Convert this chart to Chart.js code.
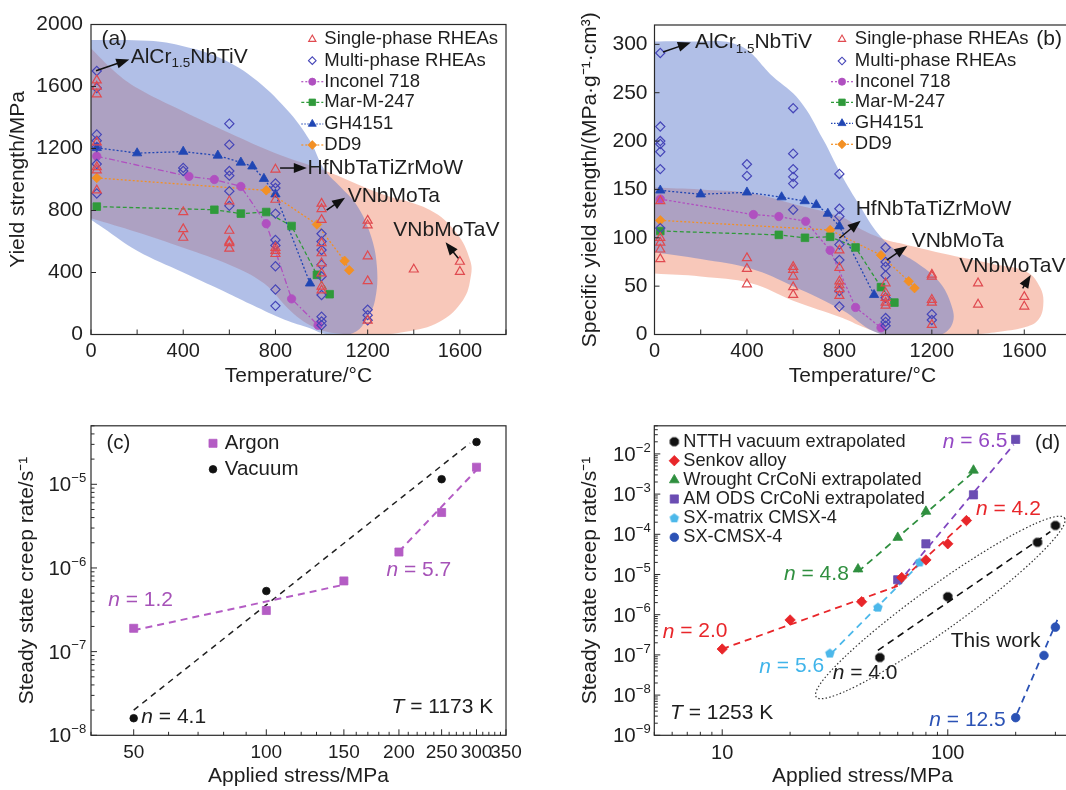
<!DOCTYPE html>
<html><head><meta charset="utf-8">
<script src="https://cdn.jsdelivr.net/npm/chart.js@4.4.1/dist/chart.umd.min.js"></script>
<style>
html,body{margin:0;padding:0;background:#fff;overflow:hidden;width:1066px;height:790px;position:relative;}
canvas{position:absolute;display:block;}
</style></head><body>
<canvas id="ca" width="533" height="395" style="left:0;top:0"></canvas>
<canvas id="cb" width="560" height="395" style="left:533px;top:0"></canvas>
<canvas id="cc" width="533" height="395" style="left:0;top:395px"></canvas>
<canvas id="cd" width="560" height="395" style="left:533px;top:395px"></canvas>
<script>
const FONT = "'Liberation Sans', Arial, Helvetica, sans-serif";
// ================= DATA =================
// (a) Yield strength vs temperature
const aSingleT = [25,25,25,25,25,25,25, 400,400,400, 600,600,600,600,600, 800,800,800,800,800, 1000,1000,1000,1000,1000,1000,1000,1000,1000, 1200,1200,1200,1200,1200, 1400, 1600,1600];
const aSingleY = [1640,1600,1550,1240,1080,1060,930, 790,680,625, 860,670,600,590,555, 1065,870,560,540,520, 845,810,740,590,525,460,395,310,285, 735,705,505,345,90, 420, 470,405];
const aMultiT = [25,25,25,25,25,25,25, 400,400, 600,600,600,600,600,600, 800,800,800,800,800,800,800,800, 1000,1000,1000,1000,1000,1000,1000,1000,1000, 1200,1200,1200];
const aMultiY = [1700,1590,1290,1250,1210,1100,910, 1075,1055, 1360,1225,1055,1025,925,830, 975,945,780,610,575,440,290,185, 650,600,545,450,375,255,115,85,60, 160,125,92];
const aInconelT = [25,425,535,650,760,870,985];
const aInconelY = [1150,1020,1000,955,715,230,60];
const aMarT = [25,535,650,760,870,980,1035];
const aMarY = [825,805,780,790,700,385,260];
const aGhT = [25,200,400,550,650,700,750,800,950];
const aGhY = [1205,1170,1180,1155,1110,1085,1005,905,330];
const aDd9T = [25,760,980,1100,1120];
const aDd9Y = [1010,930,710,475,415];
const aBlueT = [-20,250,400,550,700,850,950,1010,1090,1150,1210,1240,1232,1196,1150,1080,1000,950,840,700,600,400,200,50,-20];
const aBlueY = [1900,1895,1860,1790,1660,1450,1250,1070,940,840,655,440,223,100,20,-5,10,40,95,190,262,400,540,690,760];
const aSalmonT = [-20,0,100,200,400,600,800,1008,1253,1470,1586,1644,1648,1614,1512,1365,1218,1050,950,860,750,600,400,200,0,-20];
const aSalmonY = [1880,1846,1700,1590,1440,1300,1170,1061,911,803,653,481,380,223,83,18,0,10,60,160,330,450,560,660,750,760];
const aTempTickLabels = [0,400,800,1200,1600];
const aStrengthTickLabels = [0,400,800,1200,1600,2000];

// (b) Specific yield strength vs temperature
const bSingleT = [25,25,25,25,25, 400,400,400, 600,600,600,600,600, 800,800,800,800,800,800, 1000,1000,1000,1000,1000, 1200,1200,1200,1200,1200, 1400,1400, 1600,1600];
const bSingleY = [138,100,95,88,78, 79,68,52, 70,67,60,49,41, 87,69,55,51,47,40, 53,43,38,33,30, 62,60,36,33,10, 53,31, 39,29];
const bMultiT = [25,25,25,25,25,25,25, 400,400, 600,600,600,600,600,600, 800,800,800,800,800,800,800, 1000,1000,1000,1000,1000,1000,1000,1000, 1200,1200];
const bMultiY = [291,215,200,197,189,171,110, 176,164, 234,187,171,163,156,129, 166,130,122,93,77,45,29, 90,75,70,61,38,17,13,9, 21,15];
const bInconelT = [25,428,538,654,760,870,980];
const bInconelY = [140,124,122,117,87,28,7];
const bMarT = [25,538,651,760,870,980,1038];
const bMarY = [107,103,100,101,90,49,33];
const bGhT = [25,200,400,550,650,700,750,800,950];
const bGhY = [149,145,147,142,138,134,125,112,41];
const bDd9T = [25,760,980,1100,1125];
const bDd9Y = [118,108,82,55,48];
const bBlueT = [-20,150,365,511,628,731,804,891,965,1040,1130,1230,1285,1290,1240,1100,950,814,600,418,200,0,-20];
const bBlueY = [303,303,299,267,242,201,167,132,105,88,75,55,30,12,0,-5,3,25,50,68,78,85,86];
const bSalmonT = [-20,0,200,418,600,814,900,1000,1068,1243,1462,1609,1670,1682,1660,1609,1500,1389,1200,1000,900,814,600,418,200,0,-20];
const bSalmonY = [153,152,150,146,135,121,108,98,94,84,73,65,48,30,15,8,3,0,-3,0,8,17,35,53,60,63,64];
const bTempTickLabels = [0,400,800,1200,1600];
const bSpecTickLabels = [0,50,100,150,200,250,300];

// (c) Creep rate vs stress, T = 1173 K
const cArgonX = [50,100,150,200,250,300];
const cArgonY = [1.9e-7,3.1e-7,7.0e-7,1.55e-6,4.6e-6,1.6e-5];
const cVacuumX = [50,100,250,300];
const cVacuumY = [1.6e-8,5.3e-7,1.15e-5,3.2e-5];
const cArgonFitLowX = [50,150];
const cArgonFitLowY = [1.8e-7,6.3e-7];
const cArgonFitHighX = [200,300];
const cArgonFitHighY = [1.57e-6,1.48e-5];
const cVacuumFitX = [50,290];
const cVacuumFitY = [2.0e-8,3.1e-5];
const cStressTickLabels = [50,100,150,200,250,300,350];
const cRateDecades = [-8,-7,-6,-5];

// (d) Creep rate vs stress, T = 1253 K
const dNtthX = [50,100,250,300];
const dNtthY = [8.6e-8,2.8e-6,6.3e-5,1.66e-4];
const dNtthFitX = [49,285];
const dNtthFitY = [1.3e-7,1.16e-4];
const dSenkovX = [10,20,41.5,62.5,80,100,121];
const dSenkovY = [1.4e-7,7.4e-7,2.1e-6,8.4e-6,2.3e-5,5.8e-5,2.2e-4];
const dSenkovFit1X = [10,60];
const dSenkovFit1Y = [1.4e-7,5.2e-6];
const dSenkovFit2X = [58,125];
const dSenkovFit2Y = [5.0e-6,2.6e-4];
const dWroughtX = [40,60,80,130];
const dWroughtY = [1.36e-5,8.3e-5,3.7e-4,3.9e-3];
const dWroughtFitX = [40,128];
const dWroughtFitY = [1.17e-5,3.3e-3];
const dAmX = [60,80,130,200];
const dAmY = [7.4e-6,5.8e-5,9.6e-4,2.3e-2];
const dAmFitX = [60,196];
const dAmFitY = [6.0e-6,1.7e-2];
const dSxmX = [30,49,75];
const dSxmY = [1.08e-7,1.5e-6,2.0e-5];
const dSxmFitX = [30.5,77];
const dSxmFitY = [1.1e-7,2.1e-5];
const dSxX = [200,267,300];
const dSxY = [2.75e-9,9.7e-8,4.9e-7];
const dSxFitX = [203,306];
const dSxFitY = [3.5e-9,7.4e-7];
const dEllipseX = [26.1,329];
const dEllipseY = [9.0e-9,2.55e-4];
const dStressTickLabels = [10,100];
const dRateDecades = [-9,-8,-7,-6,-5,-4,-3,-2];

// ================= HELPERS =================
Chart.defaults.font.family = FONT;
Chart.defaults.color = '#1e1e1e';
const zip = (xs, ys) => xs.map((x, i) => ({x, y: ys[i]}));
function linTicks(a, b, step) { const r = []; for (let v = a; v <= b + 1e-9; v += step) r.push(Math.round(v * 1e6) / 1e6); return r; }
function logTicks(lo, hi) {
  const r = []; let e = Math.floor(Math.log10(lo) + 1e-9);
  for (; e < 20; e++) for (let m = 1; m <= 9; m++) {
    const v = parseFloat((m * Math.pow(10, e)).toPrecision(6));
    if (v < lo * (1 - 1e-9)) continue;
    if (v > hi * (1 + 1e-9)) return r;
    r.push(v);
  }
  return r;
}
function polyCanvas(n, r, color, rot) {
  const s = Math.ceil(2 * r + 2); const c = document.createElement('canvas'); c.width = c.height = s;
  const g = c.getContext('2d'); g.fillStyle = color; g.beginPath();
  for (let i = 0; i < n; i++) { const t = rot + i * 2 * Math.PI / n; const x = s / 2 + r * Math.cos(t), y = s / 2 + r * Math.sin(t); i ? g.lineTo(x, y) : g.moveTo(x, y); }
  g.closePath(); g.fill(); return c;
}
function pts(xs, ys, style, color, r, filled, order) {
  return {data: zip(xs, ys), showLine: false, pointStyle: style, pointRadius: r,
    pointBorderColor: color, pointBackgroundColor: filled ? color : 'rgba(0,0,0,0)',
    pointBorderWidth: filled ? 0.8 : 1.2, order: order || 1};
}
function series(xs, ys, style, color, r, dash) {
  return {data: zip(xs, ys), showLine: true, borderColor: color, borderWidth: 1.3, borderDash: dash,
    pointStyle: style, pointRadius: r, pointBackgroundColor: color, pointBorderColor: color, pointBorderWidth: 0.8, order: 2};
}
function fitLine(xs, ys, color, dash, width) {
  return {data: zip(xs, ys), showLine: true, borderColor: color, borderWidth: width, borderDash: dash, pointRadius: 0, order: 3};
}
function blob(xs, ys, color, order) {
  return {data: zip(xs, ys), showLine: true, fill: 'shape', backgroundColor: color, borderColor: 'rgba(0,0,0,0)',
    borderWidth: 0, pointRadius: 0, tension: 0.4, order};
}
function sameVal(a, b) { return Math.abs(a - b) <= 1e-9 * Math.max(1, Math.abs(a)); }
function axis(o) {
  return {
    type: o.type, min: o.min, max: o.max, position: o.pos,
    afterFit: s => { if (o.pos === 'left') s.width = o.size; else s.height = o.size; },
    afterBuildTicks: s => { s.ticks = o.ticks.map(v => ({value: v})); },
    grid: {display: false, drawTicks: false}, border: {display: false},
    ticks: {display: o.showLabels !== false, autoSkip: false, maxRotation: 0, minRotation: 0, padding: o.tickPad,
      font: {size: o.tickSize, family: FONT}, color: '#1e1e1e',
      callback: v => (o.labels || []).some(l => sameVal(l, v)) ? String(v) : ''},
    title: {display: true, text: o.title, font: {size: 21, family: FONT}, color: '#1e1e1e',
      padding: o.pos === 'left' ? {top: o.titlePad, bottom: 0} : {top: 0, bottom: o.titlePad}}
  };
}
function drawMarker(ctx, style, x, y, r, color, filled) {
  ctx.save(); ctx.setLineDash([]);
  if (typeof style === 'object') { ctx.drawImage(style, x - style.width / 2, y - style.height / 2); ctx.restore(); return; }
  ctx.beginPath();
  if (style === 'circle') ctx.arc(x, y, r, 0, 2 * Math.PI);
  else if (style === 'rect') { const s = r * Math.SQRT1_2; ctx.rect(x - s, y - s, 2 * s, 2 * s); }
  else if (style === 'rectRot') { ctx.moveTo(x - r, y); ctx.lineTo(x, y - r); ctx.lineTo(x + r, y); ctx.lineTo(x, y + r); ctx.closePath(); }
  else if (style === 'triangle') { for (let i = 0; i < 3; i++) { const a = i * 2 * Math.PI / 3; const px = x + Math.sin(a) * r, py = y - Math.cos(a) * r; i ? ctx.lineTo(px, py) : ctx.moveTo(px, py); } ctx.closePath(); }
  if (filled) { ctx.fillStyle = color; ctx.fill(); }
  ctx.strokeStyle = color; ctx.lineWidth = filled ? 0.8 : 1.1; ctx.stroke();
  ctx.restore();
}
function drawRich(ctx, x, y, parts, size, color, align) {
  let total = 0;
  const segs = parts.map(p => {
    const s = (p.sup || p.sub) ? size * 0.64 : size;
    const font = (p.it ? 'italic ' : '') + s + 'px ' + FONT;
    ctx.font = font; const w = ctx.measureText(p.t).width; total += w; return {p, font, w};
  });
  let cx = align === 'right' ? x - total : align === 'center' ? x - total / 2 : x;
  ctx.fillStyle = color; ctx.textBaseline = 'middle'; ctx.textAlign = 'left';
  for (const g of segs) {
    ctx.font = g.font; let dy = 0;
    if (g.p.sup) dy = -size * 0.36; if (g.p.sub) dy = size * 0.3;
    ctx.fillText(g.p.t, cx, y + dy); cx += g.w;
  }
}
function arrow(ctx, x1, y1, x2, y2) {
  const ang = Math.atan2(y2 - y1, x2 - x1), L = 13, W = 5, c = Math.cos(ang), s = Math.sin(ang);
  ctx.save(); ctx.strokeStyle = '#111'; ctx.fillStyle = '#111'; ctx.lineWidth = 1.5; ctx.setLineDash([]);
  ctx.beginPath(); ctx.moveTo(x1, y1); ctx.lineTo(x2 - L * 0.8 * c, y2 - L * 0.8 * s); ctx.stroke();
  ctx.beginPath(); ctx.moveTo(x2, y2);
  ctx.lineTo(x2 - L * c + W * s, y2 - L * s - W * c); ctx.lineTo(x2 - L * c - W * s, y2 - L * s + W * c);
  ctx.closePath(); ctx.fill(); ctx.restore();
}
const DECO = {};
const decoPlugin = {
  id: 'deco',
  afterDraw(chart) {
    const cfg = DECO[chart.canvas.id]; if (!cfg) return;
    const ctx = chart.ctx, a = chart.chartArea, xs = chart.scales.x, ys = chart.scales.y;
    ctx.save();
    ctx.strokeStyle = '#2a2a2a'; ctx.lineWidth = 1.2; ctx.setLineDash([]);
    ctx.strokeRect(a.left, a.top, a.right - a.left, a.bottom - a.top);
    ctx.lineWidth = 1;
    for (const t of xs.ticks) {
      const px = xs.getPixelForValue(t.value); const len = cfg.xMajor(t.value) ? cfg.majLen : cfg.minLen;
      ctx.beginPath(); ctx.moveTo(px, a.bottom); ctx.lineTo(px, a.bottom - len); ctx.stroke();
    }
    for (const t of ys.ticks) {
      const py = ys.getPixelForValue(t.value); const len = cfg.yMajor(t.value) ? cfg.majLen : cfg.minLen;
      ctx.beginPath(); ctx.moveTo(a.left, py); ctx.lineTo(a.left + len, py); ctx.stroke();
    }
    if (cfg.decades) for (const e of cfg.decades) {
      const py = ys.getPixelForValue(Math.pow(10, e));
      drawRich(ctx, a.left - cfg.logGap, py + 1.5, [{t: '10'}, {t: '\u2212' + Math.abs(e), sup: true}], 20.5, '#1e1e1e', 'right');
    }
    for (const L of (cfg.legend || [])) {
      if (L.dash) {
        ctx.save(); ctx.strokeStyle = L.color; ctx.lineWidth = 1.2; ctx.setLineDash(L.dash);
        ctx.beginPath(); ctx.moveTo(L.x - 11, L.y); ctx.lineTo(L.x + 11, L.y); ctx.stroke(); ctx.restore();
      }
      drawMarker(ctx, L.style, L.x, L.y, L.r, L.color, L.filled);
      drawRich(ctx, L.tx, L.y, [{t: L.label}], L.size, '#1e1e1e', 'left');
    }
    for (const T of (cfg.texts || [])) drawRich(ctx, T.x, T.y, T.parts, T.size || 21, T.color || '#1e1e1e', 'left');
    for (const A of (cfg.arrows || [])) arrow(ctx, xs.getPixelForValue(A[0]), ys.getPixelForValue(A[1]), xs.getPixelForValue(A[2]), ys.getPixelForValue(A[3]));
    if (cfg.ellipse) {
      const E = cfg.ellipse;
      const x1 = xs.getPixelForValue(E.x[0]), y1 = ys.getPixelForValue(E.y[0]);
      const x2 = xs.getPixelForValue(E.x[1]), y2 = ys.getPixelForValue(E.y[1]);
      ctx.save(); ctx.strokeStyle = '#333'; ctx.lineWidth = 1.2; ctx.setLineDash([1.5, 2.2]);
      ctx.beginPath(); ctx.ellipse((x1 + x2) / 2, (y1 + y2) / 2, Math.hypot(x2 - x1, y2 - y1) / 2, E.b, Math.atan2(y2 - y1, x2 - x1), 0, 2 * Math.PI);
      ctx.stroke(); ctx.restore();
    }
    ctx.restore();
  }
};
Chart.register(decoPlugin);

function baseOpts(pad, xAxis, yAxis) {
  return {responsive: false, animation: false, devicePixelRatio: 1,
    layout: {padding: {left: 0, top: pad.top, right: pad.right, bottom: 0}},
    plugins: {legend: {display: false}, tooltip: {enabled: false}},
    scales: {x: xAxis, y: yAxis}};
}

const RED = '#e04a50', NAVY = '#4646b8', PURP = '#b050c0', GREEN = '#2f9a3a', BLUE = '#2046b4', ORANGE = '#f39024';
const BLOB_BLUE = 'rgba(90,120,205,0.47)', BLOB_SALMON = 'rgba(242,145,118,0.5)';

function legendAB(x, tx, ys) {
  const S = 18.5;
  return [
    {label: 'Single-phase RHEAs', style: 'triangle', r: 4.2, color: RED, filled: false, x, tx, y: ys[0], size: S},
    {label: 'Multi-phase RHEAs', style: 'rectRot', r: 3.8, color: NAVY, filled: false, x, tx, y: ys[1], size: S},
    {label: 'Inconel 718', style: 'circle', r: 3.6, color: PURP, filled: true, dash: [2, 2], x, tx, y: ys[2], size: S},
    {label: 'Mar-M-247', style: 'rect', r: 4.6, color: GREEN, filled: true, dash: [3, 2], x, tx, y: ys[3], size: S},
    {label: 'GH4151', style: 'triangle', r: 4.6, color: BLUE, filled: true, dash: [1.5, 1.5], x, tx, y: ys[4], size: S},
    {label: 'DD9', style: 'rectRot', r: 4.4, color: ORANGE, filled: true, dash: [2, 2], x, tx, y: ys[5], size: S}
  ];
}

// ================= PANEL (a) =================
DECO.ca = {
  majLen: 5, minLen: 5, xMajor: () => true, yMajor: () => true,
  legend: legendAB(312.3, 324.3, [39.3, 60.7, 81.7, 102.3, 124, 145]),
  texts: [
    {parts: [{t: '(a)'}], x: 101.4, y: 39},
    {parts: [{t: 'AlCr'}, {t: '1.5', sub: true}, {t: 'NbTiV'}], x: 130.7, y: 57},
    {parts: [{t: 'HfNbTaTiZrMoW'}], x: 307.6, y: 168.3},
    {parts: [{t: 'VNbMoTa'}], x: 347.7, y: 196.7},
    {parts: [{t: 'VNbMoTaV'}], x: 393.3, y: 230}
  ],
  arrows: [[22, 1702, 166, 1775], [820, 1074, 936, 1074], [1022, 803, 1102, 883], [1593, 492, 1538, 595]]
};
new Chart(document.getElementById('ca'), {
  type: 'scatter',
  data: {datasets: [
    blob(aSalmonT, aSalmonY, BLOB_SALMON, 11),
    blob(aBlueT, aBlueY, BLOB_BLUE, 10),
    series(aInconelT, aInconelY, 'circle', PURP, 4.2, [6, 2.5, 1.5, 2.5]),
    series(aMarT, aMarY, 'rect', GREEN, 5.4, [4, 2.5]),
    series(aGhT, aGhY, 'triangle', BLUE, 5.4, [2, 2]),
    series(aDd9T, aDd9Y, 'rectRot', ORANGE, 4.8, [2, 2]),
    pts(aSingleT, aSingleY, 'triangle', RED, 5.2, false, 1),
    pts(aMultiT, aMultiY, 'rectRot', NAVY, 4.6, false, 1)
  ]},
  options: baseOpts({top: 24.5, right: 27},
    axis({type: 'linear', min: 0, max: 1800, pos: 'bottom', size: 60.5, ticks: linTicks(0, 1800, 200), labels: aTempTickLabels, tickPad: 5.2, tickSize: 20, title: 'Temperature/\u00B0C', titlePad: 5.7}),
    axis({type: 'linear', min: 0, max: 2000, pos: 'left', size: 91, ticks: linTicks(0, 2000, 400), labels: aStrengthTickLabels, tickPad: 8, tickSize: 21, title: 'Yield strength/MPa', titlePad: 6}))
});

// ================= PANEL (b) =================
DECO.cb = {
  majLen: 5, minLen: 5, xMajor: () => true, yMajor: () => true,
  legend: legendAB(309, 321.8, [39.3, 61, 81.7, 102.3, 123.3, 144.3]),
  texts: [
    {parts: [{t: '(b)'}], x: 503.3, y: 39.3},
    {parts: [{t: 'AlCr'}, {t: '1.5', sub: true}, {t: 'NbTiV'}], x: 161.9, y: 42.7},
    {parts: [{t: 'HfNbTaTiZrMoW'}], x: 322.7, y: 209.3},
    {parts: [{t: 'VNbMoTa'}], x: 378.7, y: 241.7},
    {parts: [{t: 'VNbMoTaV'}], x: 426.3, y: 266}
  ],
  arrows: [[37, 292, 157, 302], [800, 99.5, 892, 117.7], [1005, 77, 1094, 91.5], [1593, 47.8, 1628, 61.5]]
};
new Chart(document.getElementById('cb'), {
  type: 'scatter',
  data: {datasets: [
    blob(bSalmonT, bSalmonY, BLOB_SALMON, 11),
    blob(bBlueT, bBlueY, BLOB_BLUE, 10),
    series(bInconelT, bInconelY, 'circle', PURP, 4.2, [2.5, 2]),
    series(bMarT, bMarY, 'rect', GREEN, 5.4, [4, 2.5]),
    series(bGhT, bGhY, 'triangle', BLUE, 5.4, [2, 2]),
    series(bDd9T, bDd9Y, 'rectRot', ORANGE, 4.8, [2, 2]),
    pts(bSingleT, bSingleY, 'triangle', RED, 5.2, false, 1),
    pts(bMultiT, bMultiY, 'rectRot', NAVY, 4.6, false, 1)
  ]},
  options: baseOpts({top: 25, right: 22.5},
    axis({type: 'linear', min: 0, max: 1800, pos: 'bottom', size: 60.5, ticks: linTicks(0, 1800, 200), labels: bTempTickLabels, tickPad: 5.2, tickSize: 20, title: 'Temperature/\u00B0C', titlePad: 5.7}),
    axis({type: 'linear', min: 0, max: 320, pos: 'left', size: 121.5, ticks: linTicks(0, 300, 50), labels: bSpecTickLabels, tickPad: 7, tickSize: 21, title: 'Specific yield stength/(MPa\u00B7g\u207B\u00B9\u00B7cm\u00B3)', titlePad: 44.4}))
});

// ================= PANEL (c) =================
const ARGON = '#b45cc4', ARGON_TXT = '#a652b8';
const isDecade = v => Math.abs(Math.log10(v) - Math.round(Math.log10(v))) < 1e-6;
DECO.cc = {
  majLen: 6, minLen: 3.5,
  xMajor: v => cStressTickLabels.some(l => sameVal(l, v)), yMajor: isDecade,
  decades: cRateDecades, logGap: 4.8,
  legend: [
    {label: 'Argon', style: 'rect', r: 5.7, color: ARGON, filled: true, x: 213, tx: 224.8, y: 48.3, size: 20.5},
    {label: 'Vacuum', style: 'circle', r: 3.8, color: '#111', filled: true, x: 213, tx: 224.8, y: 74.3, size: 20.5}
  ],
  texts: [
    {parts: [{t: '(c)'}], x: 106.5, y: 48.3, size: 20.5},
    {parts: [{t: 'n', it: true}, {t: ' = 1.2'}], x: 108.2, y: 205, color: ARGON_TXT},
    {parts: [{t: 'n', it: true}, {t: ' = 5.7'}], x: 386.4, y: 175, color: ARGON_TXT},
    {parts: [{t: 'n', it: true}, {t: ' = 4.1'}], x: 141.3, y: 322.3},
    {parts: [{t: 'T', it: true}, {t: ' = 1173 K'}], x: 391.5, y: 312.3}
  ]
};
new Chart(document.getElementById('cc'), {
  type: 'scatter',
  data: {datasets: [
    fitLine(cArgonFitLowX, cArgonFitLowY, ARGON, [7, 5], 2),
    fitLine(cArgonFitHighX, cArgonFitHighY, ARGON, [7, 5], 2),
    fitLine(cVacuumFitX, cVacuumFitY, '#222', [6, 5], 1.5),
    pts(cArgonX, cArgonY, 'rect', ARGON, 5.7, true, 1),
    pts(cVacuumX, cVacuumY, 'circle', '#111', 3.8, true, 1)
  ]},
  options: baseOpts({top: 30.8, right: 27},
    axis({type: 'logarithmic', min: 40, max: 350, pos: 'bottom', size: 54.7, ticks: linTicks(40, 350, 10), labels: cStressTickLabels, tickPad: 6, tickSize: 19, title: 'Applied stress/MPa', titlePad: 0.7}),
    axis({type: 'logarithmic', min: 1e-8, max: 5e-5, pos: 'left', size: 91, ticks: logTicks(1e-8, 5e-5), labels: [], showLabels: false, tickPad: 5, tickSize: 20, title: 'Steady state creep rate/s\u207B\u00B9', titlePad: 14.4}))
});

// ================= PANEL (d) =================
const D_BLACK = '#111111', D_RED = '#e8262a', D_GREEN = '#2f8f3f', D_PURP = '#6b4db3', D_PURPL = '#8048c0', D_LBLUE = '#4cb8ea', D_BLUE = '#2b52b5';
const octagon = polyCanvas(8, 5, D_BLACK, Math.PI / 8);
const pentagon = polyCanvas(5, 5, D_LBLUE, -Math.PI / 2);
DECO.cd = {
  majLen: 6, minLen: 3.5,
  xMajor: isDecade, yMajor: isDecade,
  decades: dRateDecades, logGap: 3.6,
  legend: [
    {label: 'NTTH vacuum extrapolated', style: octagon, r: 5, color: D_BLACK, filled: true, x: 141.3, tx: 150.3, y: 46.7, size: 18.2},
    {label: 'Senkov alloy', style: 'rectRot', r: 5.2, color: D_RED, filled: true, x: 141.3, tx: 150.3, y: 65.7, size: 18.2},
    {label: 'Wrought CrCoNi extrapolated', style: 'triangle', r: 5.6, color: D_GREEN, filled: true, x: 141.3, tx: 150.3, y: 85, size: 18.2},
    {label: 'AM ODS CrCoNi extrapolated', style: 'rect', r: 5.8, color: D_PURP, filled: true, x: 141.3, tx: 150.3, y: 104, size: 18.2},
    {label: 'SX-matrix CMSX-4', style: pentagon, r: 5, color: D_LBLUE, filled: true, x: 141.3, tx: 150.3, y: 123.3, size: 18.2},
    {label: 'SX-CMSX-4', style: 'circle', r: 4.3, color: D_BLUE, filled: true, x: 141.3, tx: 150.3, y: 142.3, size: 18.2}
  ],
  texts: [
    {parts: [{t: '(d)'}], x: 502, y: 48.3, size: 20.5},
    {parts: [{t: 'n', it: true}, {t: ' = 6.5'}], x: 409.7, y: 46.7, color: '#9448c4'},
    {parts: [{t: 'n', it: true}, {t: ' = 4.2'}], x: 443, y: 114.3, color: D_RED},
    {parts: [{t: 'n', it: true}, {t: ' = 4.8'}], x: 251, y: 179, color: D_GREEN},
    {parts: [{t: 'n', it: true}, {t: ' = 2.0'}], x: 129.7, y: 236.7, color: D_RED},
    {parts: [{t: 'n', it: true}, {t: ' = 5.6'}], x: 226.3, y: 271.7, color: '#3fb4ea'},
    {parts: [{t: 'n', it: true}, {t: ' = 4.0'}], x: 299.7, y: 278.3},
    {parts: [{t: 'This work'}], x: 417.7, y: 246.7},
    {parts: [{t: 'n', it: true}, {t: ' = 12.5'}], x: 396.3, y: 325, color: D_BLUE},
    {parts: [{t: 'T', it: true}, {t: ' = 1253 K'}], x: 137, y: 318.3}
  ],
  ellipse: {x: dEllipseX, y: dEllipseY, b: 22}
};
new Chart(document.getElementById('cd'), {
  type: 'scatter',
  data: {datasets: [
    fitLine(dNtthFitX, dNtthFitY, '#111', [7, 5], 1.6),
    fitLine(dSenkovFit1X, dSenkovFit1Y, D_RED, [7, 5], 1.8),
    fitLine(dSenkovFit2X, dSenkovFit2Y, D_RED, [7, 5], 1.8),
    fitLine(dWroughtFitX, dWroughtFitY, D_GREEN, [7, 5], 1.8),
    fitLine(dAmFitX, dAmFitY, D_PURPL, [7, 5], 1.8),
    fitLine(dSxmFitX, dSxmFitY, D_LBLUE, [7, 5], 1.8),
    fitLine(dSxFitX, dSxFitY, D_BLUE, [7, 5], 1.8),
    pts(dSenkovX, dSenkovY, 'rectRot', D_RED, 5.2, true, 1),
    pts(dWroughtX, dWroughtY, 'triangle', D_GREEN, 5.6, true, 1),
    pts(dSxmX, dSxmY, pentagon, D_LBLUE, 5, true, 1),
    pts(dAmX, dAmY, 'rect', D_PURP, 5.8, true, 1),
    pts(dNtthX, dNtthY, octagon, D_BLACK, 5, true, 1),
    pts(dSxX, dSxY, 'circle', D_BLUE, 4.3, true, 1)
  ]},
  options: baseOpts({top: 30.8, right: 22.5},
    axis({type: 'logarithmic', min: 5, max: 350, pos: 'bottom', size: 54.7, ticks: logTicks(5, 350), labels: dStressTickLabels, tickPad: 6, tickSize: 20, title: 'Applied stress/MPa', titlePad: 0.7}),
    axis({type: 'logarithmic', min: 1e-9, max: 5e-2, pos: 'left', size: 121.3, ticks: logTicks(1e-9, 5e-2), labels: [], showLabels: false, tickPad: 5, tickSize: 20, title: 'Steady state creep rate/s\u207B\u00B9', titlePad: 44.5}))
});
</script>
</body></html>
